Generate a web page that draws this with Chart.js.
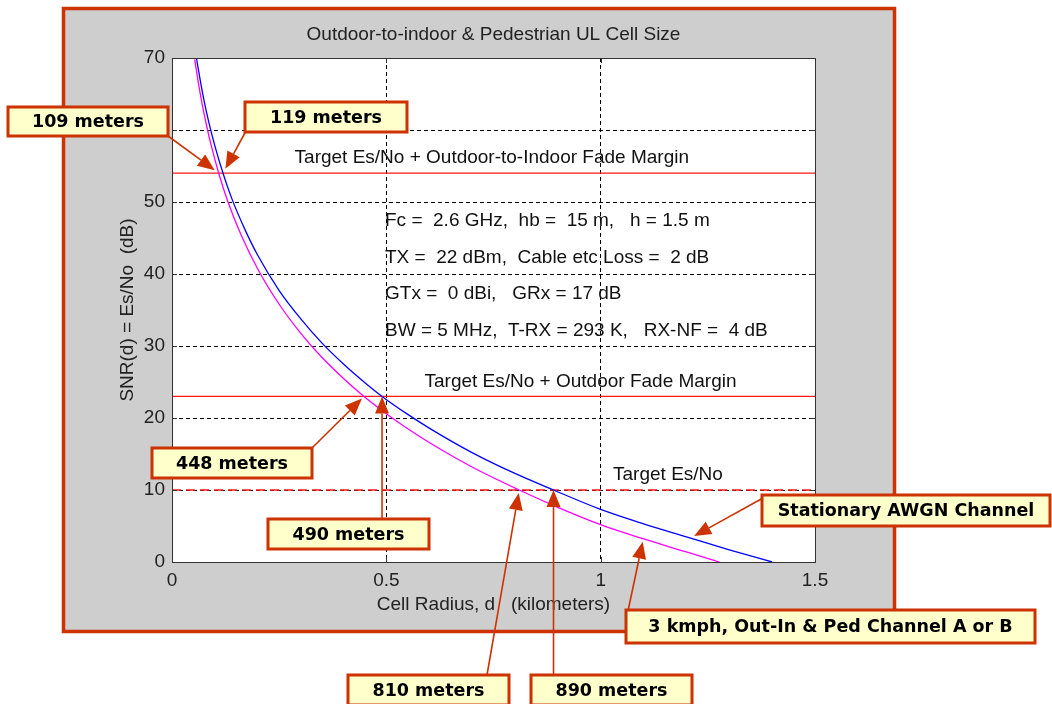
<!DOCTYPE html>
<html>
<head>
<meta charset="utf-8">
<title>Outdoor-to-indoor &amp; Pedestrian UL Cell Size</title>
<script src="https://cdn.jsdelivr.net/npm/chart.js@4.4.1/dist/chart.umd.min.js"></script>
<style>
    html, body { margin: 0; padding: 0; background: #fff; }
    canvas { display: block; }
</style>
</head>
<body>
<canvas id="cellChart" width="1052" height="704"></canvas>
<script>
// SNR vs cell radius
const radiusAwgnKm = [0.057, 0.065, 0.075, 0.085, 0.1, 0.119, 0.14, 0.17, 0.2, 0.25, 0.3, 0.35, 0.4, 0.45, 0.49, 0.55, 0.6, 0.7, 0.8, 0.89, 1.0, 1.1, 1.2, 1.3, 1.4];
const snrAwgnDb = [70.0, 67.2, 64.0, 61.3, 57.8, 54.0, 50.4, 46.2, 42.6, 37.7, 33.8, 30.4, 27.5, 24.9, 23.0, 20.5, 18.6, 15.2, 12.3, 10.0, 7.3, 5.3, 3.5, 1.7, 0];

const radiusPedKm = [0.053, 0.06, 0.07, 0.08, 0.09, 0.109, 0.13, 0.16, 0.2, 0.25, 0.3, 0.35, 0.4, 0.448, 0.5, 0.55, 0.6, 0.7, 0.81, 0.9, 1.0, 1.1, 1.2, 1.277];
const snrPedDb = [69.8, 67.1, 63.7, 60.8, 58.2, 54.0, 50.1, 45.6, 40.7, 35.8, 31.8, 28.4, 25.5, 23.0, 20.6, 18.5, 16.6, 13.2, 10.0, 7.6, 5.2, 3.2, 1.4, 0];

// horizontal target levels
const targetLabels = ['Target Es/No + Outdoor-to-Indoor Fade Margin', 'Target Es/No + Outdoor Fade Margin', 'Target Es/No'];
const targetSnrDb = [54, 23, 10];

// where each curve meets each target (meters)
const awgnCrossM = [119, 490, 890];
const pedCrossM = [109, 448, 810];

// pointer positions for the two curve callouts
const awgnPointer = [1.212, 3.4];
const pedPointer = [1.099, 3.1];

const xTicks = [0, 0.5, 1, 1.5];
const yTicks = [0, 10, 20, 30, 40, 50, 60, 70];

const titleText = 'Outdoor-to-indoor & Pedestrian UL Cell Size';
const xTitle = 'Cell Radius, d   (kilometers)';
const yTitle = 'SNR(d) = Es/No  (dB)';
const paramLines = [
    'Fc =  2.6 GHz,  hb =  15 m,   h = 1.5 m',
    'TX =  22 dBm,  Cable etc Loss =  2 dB',
    'GTx =  0 dBi,   GRx = 17 dB',
    'BW = 5 MHz,  T-RX = 293 K,   RX-NF =  4 dB'
];

function toPoints(xs, ys) {
    return xs.map((x, i) => ({ x: x, y: ys[i] }));
}

const RED = '#cc3300';
const TEXT_FONT = '19px "Liberation Sans", Arial, sans-serif';
const BOX_FONT = 'bold 17.5px "DejaVu Sans", Verdana, sans-serif';

// callout boxes: pixel layout, arrows point at data values
const callouts = [
    { text: pedCrossM[0] + ' meters', box: [8, 107, 160, 29], from: [168, 136], to: [pedCrossM[0] / 1000, targetSnrDb[0]], gap: 5 },
    { text: awgnCrossM[0] + ' meters', box: [245, 102, 162, 30], from: [246, 131], to: [awgnCrossM[0] / 1000, targetSnrDb[0]], gap: 5 },
    { text: pedCrossM[1] + ' meters', box: [152, 448, 160, 30], from: [312, 448], to: [pedCrossM[1] / 1000, targetSnrDb[1]], gap: 3 },
    { text: awgnCrossM[1] + ' meters', box: [268, 519, 161, 30], from: null, to: [awgnCrossM[1] / 1000, targetSnrDb[1]], gap: 0 },
    { text: pedCrossM[2] + ' meters', box: [348, 675, 161, 30], from: [487, 675], to: [pedCrossM[2] / 1000, targetSnrDb[2]], gap: 3 },
    { text: awgnCrossM[2] + ' meters', box: [531, 675, 161, 30], from: null, to: [awgnCrossM[2] / 1000, targetSnrDb[2]], gap: 0 },
    { text: 'Stationary AWGN Channel', box: [762, 495, 288, 31], from: [763, 498], to: awgnPointer, gap: 3 },
    { text: '3 kmph, Out-In & Ped Channel A or B', box: [626, 610, 409, 33], from: [628, 611], to: pedPointer, gap: 2 }
];

// label anchors for the target lines (km along x)
const targetLabelKm = [0.746, 0.953, 1.157];

function drawArrow(c, x0, y0, x1, y1, gap) {
    const ang = Math.atan2(y1 - y0, x1 - x0);
    const tx = x1 - Math.cos(ang) * gap;
    const ty = y1 - Math.sin(ang) * gap;
    const len = 17, half = 7;
    const bx = tx - Math.cos(ang) * len;
    const by = ty - Math.sin(ang) * len;
    c.strokeStyle = RED;
    c.fillStyle = RED;
    c.lineWidth = 1.6;
    c.beginPath();
    c.moveTo(x0, y0);
    c.lineTo(bx, by);
    c.stroke();
    c.beginPath();
    c.moveTo(tx, ty);
    c.lineTo(bx - Math.sin(ang) * half, by + Math.cos(ang) * half);
    c.lineTo(bx + Math.sin(ang) * half, by - Math.cos(ang) * half);
    c.closePath();
    c.fill();
}

const figurePlugin = {
    id: 'figure',
    beforeDraw(chart) {
        const c = chart.ctx;
        const a = chart.chartArea;
        c.save();
        c.fillStyle = '#fff';
        c.fillRect(0, 0, chart.width, chart.height);
        // grey figure panel with red frame
        c.fillStyle = '#cecece';
        c.fillRect(63.5, 8.5, 831, 623);
        c.strokeStyle = RED;
        c.lineWidth = 3.5;
        c.strokeRect(63.5, 8.5, 831, 623);
        c.fillStyle = '#fff';
        c.fillRect(a.left, a.top, a.right - a.left, a.bottom - a.top);
        c.restore();
    },
    afterDatasetsDraw(chart) {
        const c = chart.ctx;
        const a = chart.chartArea;
        const xs = chart.scales.x, ys = chart.scales.y;
        c.save();
        // axes box and inward ticks
        c.strokeStyle = '#333';
        c.lineWidth = 1;
        c.strokeRect(Math.round(a.left) + 0.5, Math.round(a.top) + 0.5, Math.round(a.right - a.left), Math.round(a.bottom - a.top));
        c.beginPath();
        yTicks.forEach(v => {
            const y = Math.round(ys.getPixelForValue(v)) + 0.5;
            c.moveTo(a.left, y); c.lineTo(a.left + 5, y);
            c.moveTo(a.right, y); c.lineTo(a.right - 5, y);
        });
        xTicks.forEach(v => {
            const x = Math.round(xs.getPixelForValue(v)) + 0.5;
            c.moveTo(x, a.bottom); c.lineTo(x, a.bottom - 5);
            c.moveTo(x, a.top); c.lineTo(x, a.top + 5);
        });
        c.stroke();

        // texts inside the axes
        c.fillStyle = '#111';
        c.font = TEXT_FONT;
        c.textBaseline = 'middle';
        c.textAlign = 'center';
        targetLabels.forEach((t, i) => {
            c.fillText(t, xs.getPixelForValue(targetLabelKm[i]), ys.getPixelForValue(targetSnrDb[i]) - 15);
        });
        c.textAlign = 'left';
        paramLines.forEach((t, i) => {
            c.fillText(t, 385, 221 + i * 36.5);
        });

        // titles
        c.fillStyle = '#222';
        c.textAlign = 'center';
        c.fillText(titleText, (a.left + a.right) / 2, 35);
        c.fillText(xTitle, (a.left + a.right) / 2, 605);
        c.translate(128, (a.top + a.bottom) / 2);
        c.rotate(-Math.PI / 2);
        c.fillText(yTitle, 0, 0);
        c.restore();
    },
    afterDraw(chart) {
        const c = chart.ctx;
        const xs = chart.scales.x, ys = chart.scales.y;
        c.save();
        callouts.forEach(co => {
            const tx = xs.getPixelForValue(co.to[0]);
            const ty = ys.getPixelForValue(co.to[1]);
            const from = co.from || [tx, co.box[1]];
            drawArrow(c, from[0], from[1], tx, ty, co.gap);
        });
        callouts.forEach(co => {
            const [bx, by, bw, bh] = co.box;
            c.fillStyle = '#ffffcc';
            c.fillRect(bx, by, bw, bh);
            c.strokeStyle = RED;
            c.lineWidth = 3;
            c.strokeRect(bx, by, bw, bh);
            c.fillStyle = '#000';
            c.font = BOX_FONT;
            c.textAlign = 'center';
            c.textBaseline = 'middle';
            c.fillText(co.text, bx + bw / 2, by + bh / 2 + 1);
        });
        c.restore();
    }
};

const lineDatasets = targetSnrDb.map((v, i) => ({
    label: targetLabels[i],
    data: toPoints([0, 1.5], [v, v]),
    borderColor: '#ff1a1a',
    borderWidth: 1.3,
    borderDash: i === 2 ? [9, 5] : [],
    pointRadius: 0
}));

const ctx = document.getElementById('cellChart').getContext('2d');
window.cellChart = new Chart(ctx, {
    type: 'line',
    data: {
        datasets: [
            {
                label: 'Stationary AWGN Channel',
                data: toPoints(radiusAwgnKm, snrAwgnDb),
                borderColor: '#0000ff',
                borderWidth: 1.3,
                pointRadius: 0,
                cubicInterpolationMode: 'monotone'
            },
            {
                label: '3 kmph, Out-In & Ped Channel A or B',
                data: toPoints(radiusPedKm, snrPedDb),
                borderColor: '#ff00ff',
                borderWidth: 1.3,
                pointRadius: 0,
                cubicInterpolationMode: 'monotone'
            },
            ...lineDatasets
        ]
    },
    options: {
        responsive: false,
        animation: false,
        events: [],
        layout: { padding: { top: 58, right: 237, left: 0, bottom: 0 } },
        plugins: {
            legend: { display: false },
            tooltip: { enabled: false }
        },
        scales: {
            x: {
                type: 'linear',
                min: 0,
                max: 1.5,
                afterBuildTicks: s => { s.ticks = xTicks.map(v => ({ value: v })); },
                afterFit: s => { s.height = 142; },
                grid: { color: '#000', lineWidth: 1, drawTicks: false },
                border: { display: false, dash: [4, 3] },
                ticks: {
                    color: '#222',
                    padding: 7,
                    maxRotation: 0,
                    font: { family: 'Liberation Sans', size: 19 },
                    callback: v => String(v)
                }
            },
            y: {
                type: 'linear',
                min: 0,
                max: 70,
                afterBuildTicks: s => { s.ticks = yTicks.map(v => ({ value: v })); },
                afterFit: s => { s.width = 172; },
                grid: { color: '#000', lineWidth: 1, drawTicks: false },
                border: { display: false, dash: [4, 3] },
                ticks: {
                    color: '#222',
                    padding: 7,
                    font: { family: 'Liberation Sans', size: 19 },
                    callback: v => String(v)
                }
            }
        }
    },
    plugins: [figurePlugin]
});
</script>
</body>
</html>
